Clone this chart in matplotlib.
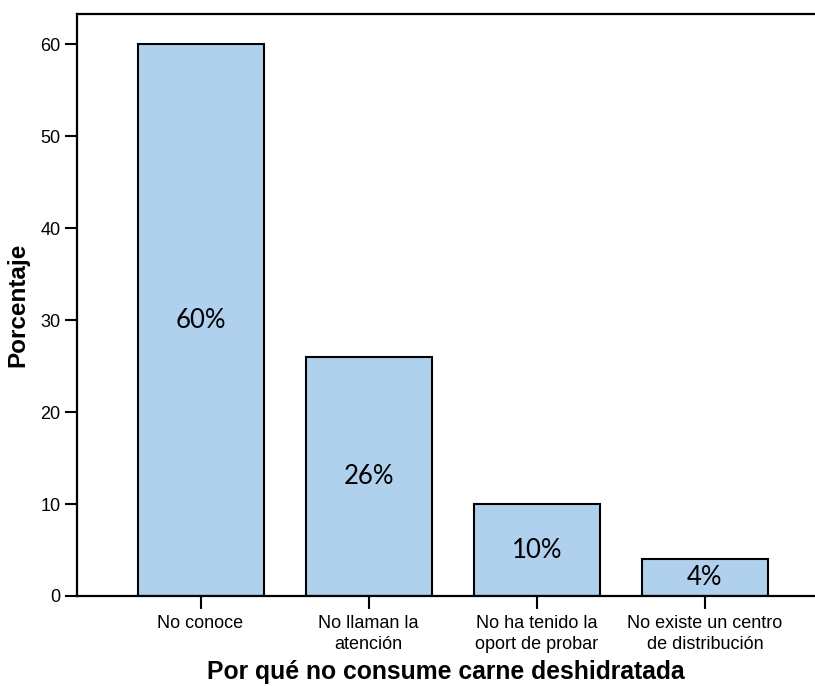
import matplotlib
matplotlib.use("Agg")
import matplotlib.pyplot as plt

categories = ["No conoce", "No llaman la\natención", "No ha tenido la\noport de probar", "No existe un centro\nde distribución"]
values = [60, 26, 10, 4]
bar_labels = ["60%", "26%", "10%", "4%"]
yticks = [0, 10, 20, 30, 40, 50, 60]

fig = plt.figure(figsize=(8.15, 6.86), dpi=100)
left_px = 77
ax = fig.add_axes([left_px/815, 1-596/686, 1-left_px/815, (596-14)/686])

x = list(range(len(categories)))
ax.bar(x, values, width=0.75, color="#AFD1EE", edgecolor="black", linewidth=1.5, zorder=2)
for xi, v, lab in zip(x, values, bar_labels):
    ax.text(xi, v/2, lab, ha="center", va="center", fontsize=18.5, family=["Lato", "DejaVu Sans"])

tick_font = ["Liberation Sans", "DejaVu Sans"]
ax.set_xlim(-0.735, 3.655)
ax.set_ylim(0, 63.3)
ax.set_xticks(x)
ax.set_xticklabels(categories, fontsize=13, family=tick_font, linespacing=1.25)
ax.set_yticks(yticks)
ax.set_yticklabels([str(t) for t in yticks], fontsize=13, family=tick_font)
ax.tick_params(axis="both", direction="out", length=9, width=1.5, pad=3)
ax.tick_params(axis="x", pad=5)

for s in ["left", "top", "bottom"]:
    ax.spines[s].set_linewidth(1.6)
ax.spines["right"].set_visible(False)

ax.set_xlabel("Por qué no consume carne deshidratada", fontsize=17.8, fontweight="bold", family=tick_font, labelpad=5)
ax.set_ylabel("Porcentaje", fontsize=17.5, fontweight="bold", family=tick_font, labelpad=8)

fig.savefig("out.png", dpi=100)
